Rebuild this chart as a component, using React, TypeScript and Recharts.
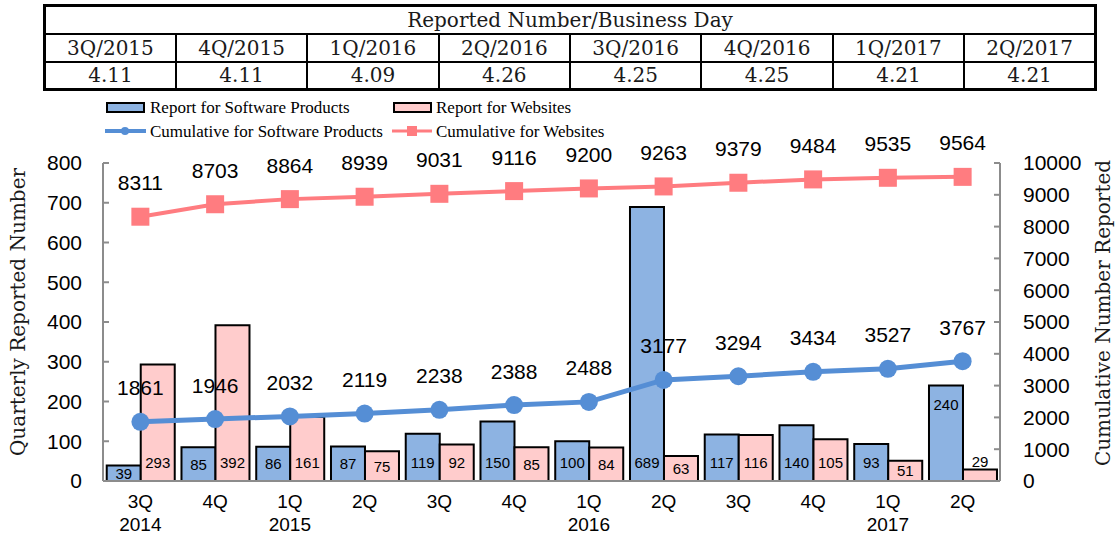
import React from 'react';
import { ComposedChart, Bar, Line, XAxis, YAxis, LabelList } from 'recharts';

// x axis categories
const quarters = ['3Q', '4Q', '1Q', '2Q', '3Q', '4Q', '1Q', '2Q', '3Q', '4Q', '1Q', '2Q'];
const years = ['2014', '', '2015', '', '', '', '2016', '', '', '', '2017', ''];

// quarterly bars
const software = [39, 85, 86, 87, 119, 150, 100, 689, 117, 140, 93, 240];
const websites = [293, 392, 161, 75, 92, 85, 84, 63, 116, 105, 51, 29];

// cumulative lines
const cumSoftware = [1861, 1946, 2032, 2119, 2238, 2388, 2488, 3177, 3294, 3434, 3527, 3767];
const cumWebsites = [8311, 8703, 8864, 8939, 9031, 9116, 9200, 9263, 9379, 9484, 9535, 9564];

// table on top
const tableQuarters = ['3Q/2015', '4Q/2015', '1Q/2016', '2Q/2016', '3Q/2016', '4Q/2016', '1Q/2017', '2Q/2017'];
const perBusinessDay = ['4.11', '4.11', '4.09', '4.26', '4.25', '4.25', '4.21', '4.21'];

const leftTicks = [0, 100, 200, 300, 400, 500, 600, 700, 800];
const rightTicks = [0, 1000, 2000, 3000, 4000, 5000, 6000, 7000, 8000, 9000, 10000];

const data = quarters.map((q, i) => ({
  cat: String(i),
  software: software[i],
  websites: websites[i],
  cumSoftware: cumSoftware[i],
  cumWebsites: cumWebsites[i],
}));

const SANS = '"Liberation Sans", Arial, sans-serif';
const SERIF = '"DejaVu Serif", serif';
const LEGEND_SERIF = '"Liberation Serif", "Times New Roman", serif';
const GRAY = '#8c8c8c';
const BLUE_BAR = '#8DB3E2';
const PINK_BAR = '#FFCCCC';
const BLUE_LINE = '#558ED5';
const PINK_LINE = '#FF7C80';

function QuarterTick(props: any) {
  const { x, y, payload } = props;
  const i = Number(payload.value);
  return (
    <g>
      <text x={x} y={y + 25} textAnchor="middle" fontSize={19} fontFamily={SANS} fill="#000">
        {quarters[i]}
      </text>
      {years[i] && (
        <text x={x} y={y + 48} textAnchor="middle" fontSize={19} fontFamily={SANS} fill="#000">
          {years[i]}
        </text>
      )}
    </g>
  );
}

const barLabel = (series: string) => (props: any) => {
  const { x, y, width, height, value, index } = props;
  const bottom = y + height;
  let cy = height >= 38 ? bottom - 19 : bottom - height / 2;
  if (height < 14) cy = y - 8;
  if (series === 'software' && index === 11) cy = y + 19;
  return (
    <text
      x={x + width / 2}
      y={cy}
      textAnchor="middle"
      dominantBaseline="central"
      fontSize={15}
      fontFamily={SANS}
      fill="#000"
    >
      {value}
    </text>
  );
};

const lineLabel = (props: any) => {
  const { x, y, value } = props;
  return (
    <text x={x} y={y - 34} textAnchor="middle" dominantBaseline="central" fontSize={21} fontFamily={SANS} fill="#000">
      {value}
    </text>
  );
};

const squareDot = (props: any) => {
  const { cx, cy, index } = props;
  return <rect key={`sq-${index}`} x={cx - 9} y={cy - 9} width={18} height={18} fill={PINK_LINE} />;
};

const cellStyle: React.CSSProperties = {
  border: '2px solid #000',
  padding: 0,
  textAlign: 'center',
  lineHeight: '1',
};

export default function App() {
  return (
    <div style={{ position: 'absolute', left: 0, top: 0, width: 1118, height: 535, background: '#fff' }}>
      <table
        style={{
          position: 'absolute',
          left: 43,
          top: 4,
          width: 1054,
          height: 84,
          borderCollapse: 'collapse',
          border: '3px solid #000',
          fontFamily: SERIF,
          fontSize: 20,
          color: '#1a1a1a',
          tableLayout: 'fixed',
        }}
      >
        <tbody>
          <tr style={{ height: 28 }}>
            <td colSpan={8} style={cellStyle}>Reported Number/Business Day</td>
          </tr>
          <tr style={{ height: 28 }}>
            {tableQuarters.map(q => (
              <td key={q} style={cellStyle}>{q}</td>
            ))}
          </tr>
          <tr style={{ height: 28 }}>
            {perBusinessDay.map((v, i) => (
              <td key={i} style={cellStyle}>{v}</td>
            ))}
          </tr>
        </tbody>
      </table>

      <div style={{ position: 'absolute', left: 0, top: 0 }}>
        <ComposedChart
          width={1118}
          height={535}
          data={data}
          margin={{ top: 163, right: 58, bottom: 4, left: 43 }}
          barGap={0}
          barCategoryGap="5%"
        >
          <XAxis
            dataKey="cat"
            height={50}
            tick={<QuarterTick />}
            tickLine={false}
            tickSize={0}
            interval={0}
            axisLine={{ stroke: GRAY, strokeWidth: 2 }}
          />
          <YAxis
            yAxisId="left"
            width={60}
            domain={[0, 800]}
            ticks={leftTicks}
            tickSize={-6}
            tickMargin={27}
            axisLine={{ stroke: GRAY, strokeWidth: 2 }}
            tickLine={{ stroke: GRAY, strokeWidth: 2 }}
            tick={{ fontSize: 21, fontFamily: SANS, fill: '#000' }}
          />
          <YAxis
            yAxisId="right"
            orientation="right"
            width={60}
            domain={[0, 10000]}
            ticks={rightTicks}
            tickSize={-6}
            tickMargin={29}
            axisLine={{ stroke: GRAY, strokeWidth: 2 }}
            tickLine={{ stroke: GRAY, strokeWidth: 2 }}
            tick={{ fontSize: 21, fontFamily: SANS, fill: '#000', textAnchor: 'start' }}
          />
          <Bar yAxisId="left" dataKey="software" fill={BLUE_BAR} stroke="#000" strokeWidth={2} isAnimationActive={false}>
            <LabelList dataKey="software" content={barLabel('software')} />
          </Bar>
          <Bar yAxisId="left" dataKey="websites" fill={PINK_BAR} stroke="#000" strokeWidth={2} isAnimationActive={false}>
            <LabelList dataKey="websites" content={barLabel('websites')} />
          </Bar>
          <Line
            yAxisId="right"
            type="linear"
            dataKey="cumSoftware"
            stroke={BLUE_LINE}
            strokeWidth={5}
            dot={{ r: 9, fill: BLUE_LINE, stroke: 'none' }}
            activeDot={false}
            isAnimationActive={false}
          >
            <LabelList dataKey="cumSoftware" content={lineLabel} />
          </Line>
          <Line
            yAxisId="right"
            type="linear"
            dataKey="cumWebsites"
            stroke={PINK_LINE}
            strokeWidth={4}
            dot={squareDot}
            activeDot={false}
            isAnimationActive={false}
          >
            <LabelList dataKey="cumWebsites" content={lineLabel} />
          </Line>
        </ComposedChart>
      </div>

      <svg width={1118} height={535} style={{ position: 'absolute', left: 0, top: 0, pointerEvents: 'none' }}>
        {/* legend */}
        <rect x={107} y={103} width={37} height={9} fill={BLUE_BAR} stroke="#000" strokeWidth={2} />
        <text x={150} y={107} dominantBaseline="central" fontSize={17} fontFamily={LEGEND_SERIF} fill="#000">
          Report for Software Products
        </text>
        <rect x={394} y={103} width={37} height={9} fill={PINK_BAR} stroke="#000" strokeWidth={2} />
        <text x={436} y={107} dominantBaseline="central" fontSize={17} fontFamily={LEGEND_SERIF} fill="#000">
          Report for Websites
        </text>
        <line x1={105} y1={131} x2={146} y2={131} stroke={BLUE_LINE} strokeWidth={4} />
        <circle cx={125} cy={131} r={4} fill={BLUE_LINE} />
        <text x={150} y={131} dominantBaseline="central" fontSize={17} fontFamily={LEGEND_SERIF} fill="#000">
          Cumulative for Software Products
        </text>
        <line x1={392} y1={131} x2={432} y2={131} stroke={PINK_LINE} strokeWidth={3} />
        <rect x={407} y={126} width={10} height={10} fill={PINK_LINE} />
        <text x={436} y={131} dominantBaseline="central" fontSize={17} fontFamily={LEGEND_SERIF} fill="#000">
          Cumulative for Websites
        </text>

        {/* axis titles */}
        <text
          x={18}
          y={312}
          transform="rotate(-90 18 312)"
          textAnchor="middle"
          dominantBaseline="central"
          fontSize={20}
          fontFamily={SERIF}
          fill="#1a1a1a"
        >
          Quarterly Reported Number
        </text>
        <text
          x={1103}
          y={313}
          transform="rotate(-90 1103 313)"
          textAnchor="middle"
          dominantBaseline="central"
          fontSize={20}
          fontFamily={SERIF}
          fill="#1a1a1a"
        >
          Cumulative Number Reported
        </text>
      </svg>
    </div>
  );
}
